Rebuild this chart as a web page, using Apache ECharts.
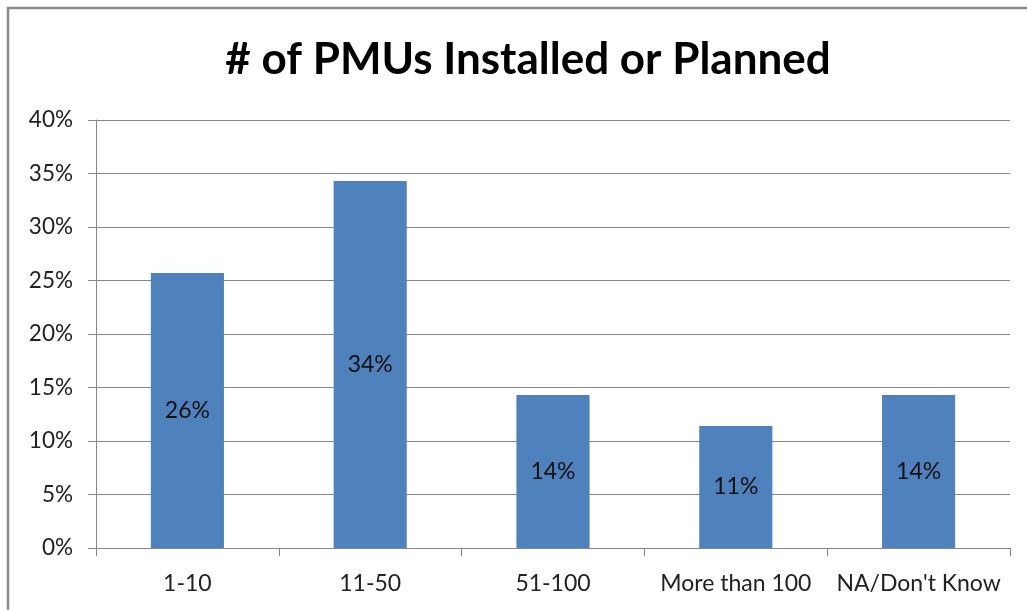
<!DOCTYPE html>
<html><head><meta charset="utf-8">
<style>html,body{margin:0;padding:0;background:#fff}#c{width:1027px;height:610px}</style>
<script src="https://cdn.jsdelivr.net/npm/echarts@6/dist/echarts.min.js"></script>
</head><body><div id="c"></div>
<script>
const categories = ['1-10', '11-50', '51-100', 'More than 100', "NA/Don't Know"];
const values = [25.7, 34.3, 14.3, 11.4, 14.3];
const yTicks = [0, 5, 10, 15, 20, 25, 30, 35, 40];
const titleText = '# of PMUs Installed or Planned';

const font = 'Lato, "Open Sans", sans-serif';
const chart = echarts.init(document.getElementById('c'), null, {renderer: 'canvas'});
chart.setOption({
  animation: false,
  backgroundColor: '#fff',
  title: {
    text: titleText, left: 523, top: 33, textAlign: 'center',
    textStyle: {fontFamily: font, fontWeight: 'bold', fontSize: 44, color: '#000'}
  },
  graphic: [{
    type: 'rect', shape: {x: 8, y: 8, width: 1100, height: 700},
    style: {fill: 'none', stroke: '#8a8a8a', lineWidth: 2.5}, silent: true
  }],
  grid: {left: 96, right: 17, top: 120, bottom: 62},
  xAxis: {
    type: 'category', data: categories,
    axisLine: {lineStyle: {color: '#868686', width: 1}},
    axisTick: {show: true, length: 8, lineStyle: {color: '#868686'}},
    axisLabel: {fontFamily: font, fontSize: 23, color: '#222', margin: 24, interval: 0}
  },
  yAxis: {
    type: 'value', min: 0, max: 40, interval: 5,
    axisLine: {show: true, lineStyle: {color: '#868686', width: 1}},
    axisTick: {show: true, length: 8, lineStyle: {color: '#868686'}},
    splitLine: {lineStyle: {color: '#868686', width: 1}},
    axisLabel: {fontFamily: font, fontSize: 22.5, color: '#222', margin: 23,
      formatter: v => yTicks.includes(v) ? v + '%' : ''}
  },
  series: [{
    type: 'bar', data: values, barWidth: '40%',
    itemStyle: {color: '#4F81BD'},
    label: {show: true, position: 'inside', fontFamily: font, fontSize: 23, color: '#111',
      formatter: p => Math.round(p.value) + '%'}
  }]
});
</script></body></html>
